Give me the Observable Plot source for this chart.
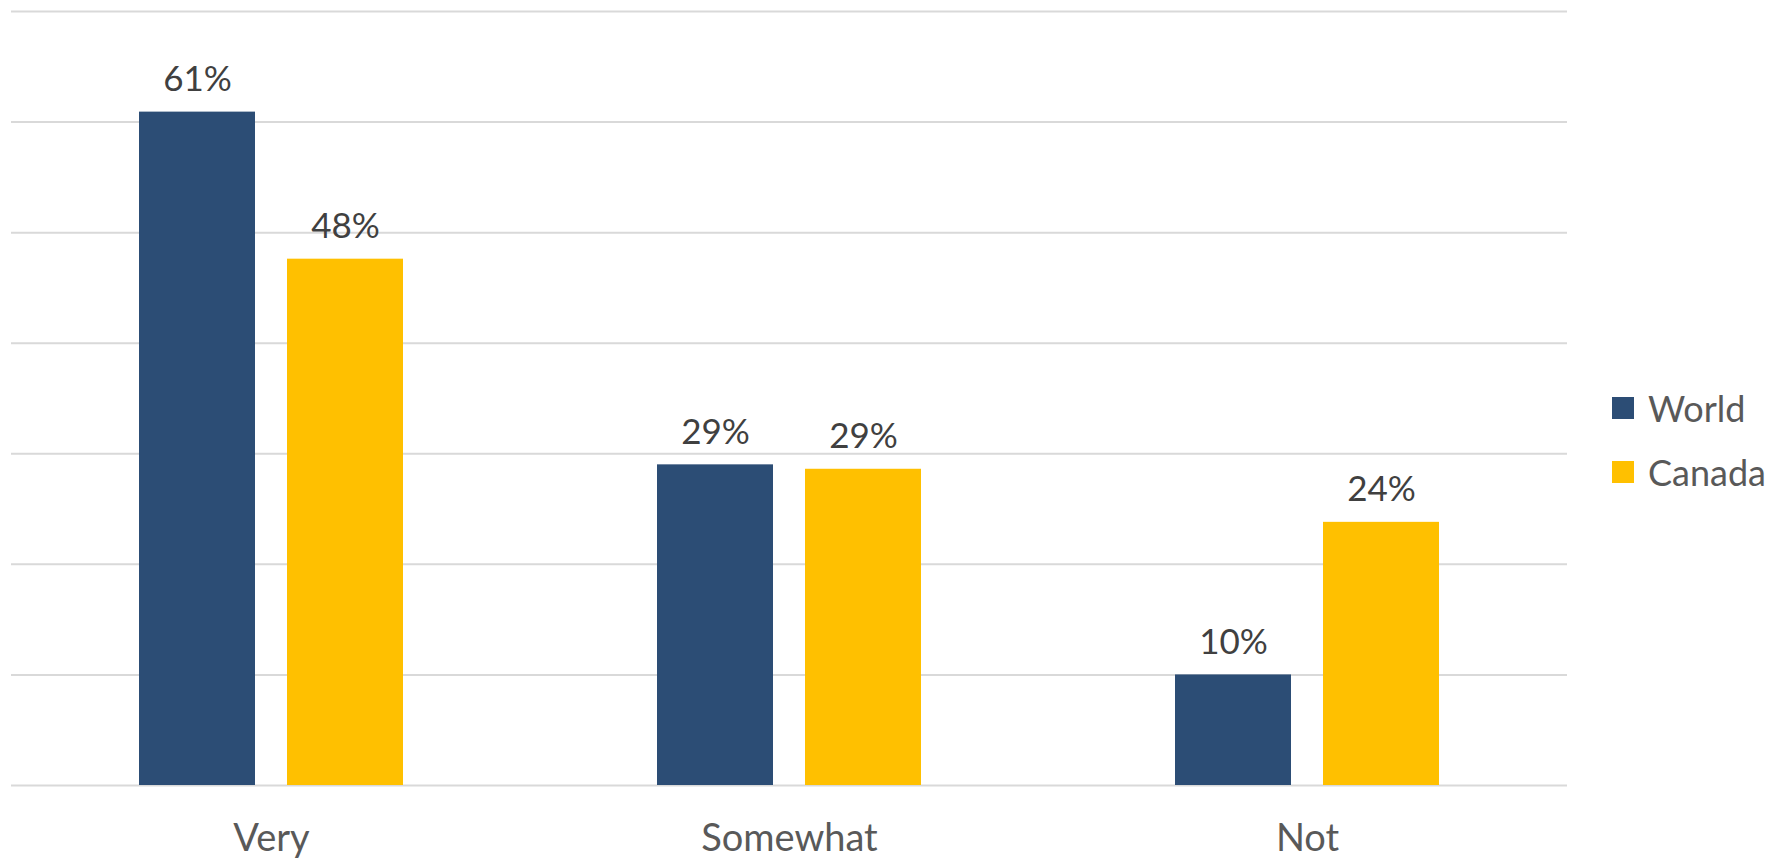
<!DOCTYPE html>
<html>
<head>
<meta charset="utf-8">
<script src="https://cdn.jsdelivr.net/npm/d3@7"></script>
<script src="https://cdn.jsdelivr.net/npm/@observablehq/plot@0.6"></script>
<style>
  html, body { margin: 0; padding: 0; background: #fff; }
  #wrap { position: relative; width: 1779px; height: 859px; font-family: Lato, "Open Sans", sans-serif; }
  #chart { position: absolute; left: 0; top: 0; }
  #legend { position: absolute; left: 1612px; top: 376px; color: #595959; font-size: 36px; }
  .item { display: flex; align-items: center; height: 64px; }
  .sw { width: 22px; height: 22px; margin-right: 14px; }
</style>
</head>
<body>
<div id="wrap">
  <div id="chart"></div>
  <div id="legend"></div>
</div>
<script>
const categories = ["Very", "Somewhat", "Not"];
const series = ["World", "Canada"];
const worldValues = [60.9, 29.0, 10.0];
const canadaValues = [47.6, 28.6, 23.8];
const yTicks = [0, 10, 20, 30, 40, 50, 60, 70];
const colors = ["#2C4D75", "#FFC000"];

const rows = [];
categories.forEach((c, i) => {
  rows.push({category: c, series: "World", value: worldValues[i]});
  rows.push({category: c, series: "Canada", value: canadaValues[i]});
});
const world = rows.filter(d => d.series === "World");
const canada = rows.filter(d => d.series === "Canada");
const fmt = d => Math.round(d.value) + "%";

const labelStyle = {fill: "#404040", fontSize: 35, lineAnchor: "bottom", dy: -21};

const plot = Plot.plot({
  width: 1779,
  height: 859,
  marginTop: 11,
  marginBottom: 74,
  marginLeft: 11,
  marginRight: 212,
  style: {fontFamily: "Lato, 'Open Sans', sans-serif", background: "#fff"},
  x: {domain: categories, paddingInner: 0.7764, paddingOuter: 0.388, label: null, tickSize: 0, tickPadding: 40},
  y: {domain: [0, 70], axis: null},
  marks: [
    Plot.ruleY(yTicks, {stroke: "#D9D9D9", strokeWidth: 2}),
    Plot.barY(world, {x: "category", y: "value", fill: colors[0], dx: -74}),
    Plot.barY(canada, {x: "category", y: "value", fill: colors[1], dx: 74}),
    Plot.text(world, {x: "category", y: "value", text: fmt, ...labelStyle, dx: -74}),
    Plot.text(canada, {x: "category", y: "value", text: fmt, ...labelStyle, dx: 74}),
    Plot.axisX({tickSize: 0, tickPadding: 39, fontSize: 38, fill: "#595959", label: null})
  ]
});
document.getElementById("chart").appendChild(plot);

const legend = document.getElementById("legend");
series.forEach((s, i) => {
  const item = document.createElement("div");
  item.className = "item";
  const sw = document.createElement("div");
  sw.className = "sw";
  sw.style.background = colors[i];
  const t = document.createElement("span");
  t.textContent = s;
  item.appendChild(sw);
  item.appendChild(t);
  legend.appendChild(item);
});
</script>
</body>
</html>
